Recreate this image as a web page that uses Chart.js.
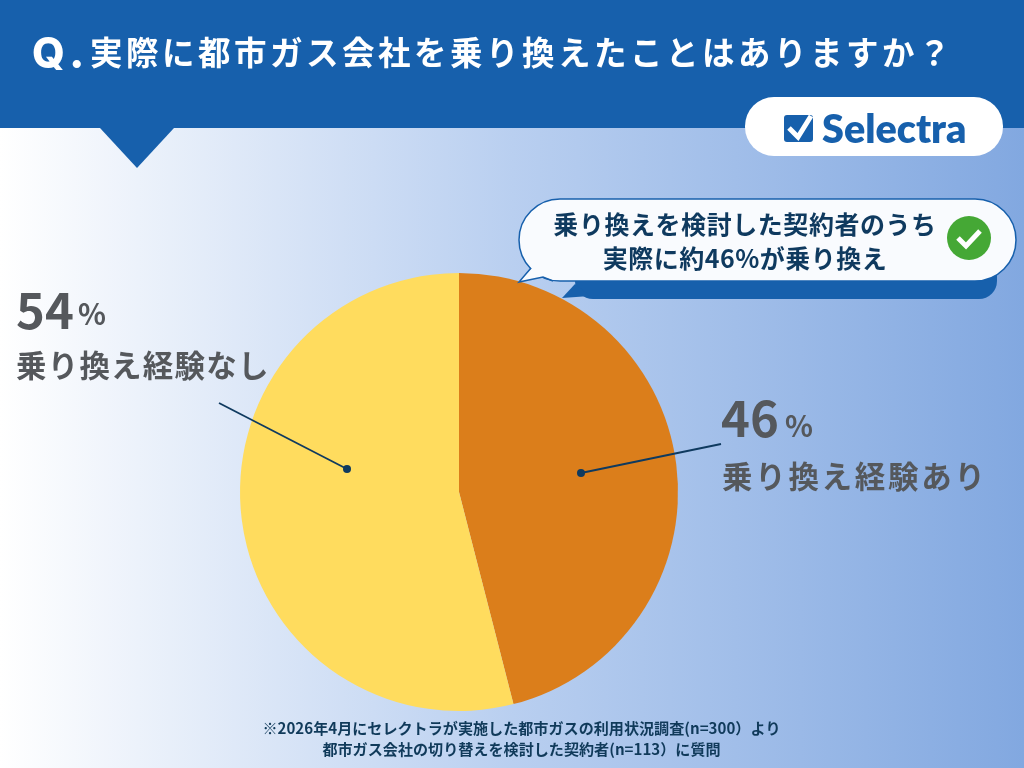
<!DOCTYPE html>
<html lang="ja"><head><meta charset="utf-8">
<style>html,body{margin:0;padding:0;width:1024px;height:768px;overflow:hidden;background:#fff}canvas{display:block}</style>
<script src="https://cdn.jsdelivr.net/npm/chart.js@4/dist/chart.umd.min.js"></script>
</head><body>
<div style="position:relative;width:1024px;height:768px"><canvas id="c" width="1024" height="768"></canvas></div>
<script>
const categories = ['乗り換え経験あり', '乗り換え経験なし'];
const values = [46, 54];
const sliceColors = ['#db7e1b', '#ffdc5e'];
const titleText = '実際に都市ガス会社を乗り換えたことはありますか？';
const calloutLines = ['乗り換えを検討した契約者のうち', '実際に約46%が乗り換え'];
const footLines = ['※2026年4月にセレクトラが実施した都市ガスの利用状況調査(n=300）より', '都市ガス会社の切り替えを検討した契約者(n=113）に質問'];
const JP = '"Noto Sans CJK JP","Noto Sans",sans-serif';

function text(ctx, s, x, y, font, color, align, ls) {
  ctx.font = font; ctx.fillStyle = color; ctx.textAlign = align || 'left';
  ctx.textBaseline = 'alphabetic'; ctx.letterSpacing = (ls || 0) + 'px';
  ctx.fillText(s, x, y); ctx.letterSpacing = '0px';
}
function rr(ctx, x, y, w, h, r) { ctx.beginPath(); ctx.roundRect(x, y, w, h, r); }

const backdrop = {
  id: 'backdrop',
  beforeDraw(chart) {
    const ctx = chart.ctx;
    ctx.save();
    const g = ctx.createLinearGradient(0, 0, 1024, 0);
    g.addColorStop(0, '#ffffff');
    g.addColorStop(0.5, '#b9cff0');
    g.addColorStop(1, '#82a8e0');
    ctx.fillStyle = g; ctx.fillRect(0, 0, 1024, 768);
    ctx.fillStyle = '#1760ac';
    ctx.fillRect(0, 0, 1024, 128);
    ctx.beginPath(); ctx.moveTo(100, 128); ctx.lineTo(174, 128); ctx.lineTo(137, 168); ctx.closePath(); ctx.fill();
    text(ctx, 'Q', 32, 68, '800 42px Inter,Roboto,sans-serif', '#fff');
    text(ctx, '.', 69, 68, '800 44px Inter,Roboto,sans-serif', '#fff');
    text(ctx, titleText, 90, 65, '700 32.5px ' + JP, '#fff', 'left', 3.5);
    // logo pill
    ctx.fillStyle = '#fff'; rr(ctx, 745, 97, 258, 59, 29); ctx.fill();
    ctx.fillStyle = '#1760ac'; rr(ctx, 784, 115, 29, 27, 3); ctx.fill();
    ctx.strokeStyle = '#fff'; ctx.lineWidth = 5; ctx.beginPath();
    ctx.moveTo(789, 128); ctx.lineTo(798, 137); ctx.lineTo(811, 116); ctx.stroke();
    text(ctx, 'Selectra', 822, 143, '800 39.5px Lato,"Open Sans",sans-serif', '#1760ac');
    ctx.restore();
  },
  afterDraw(chart) {
    const ctx = chart.ctx;
    ctx.save();
    // callout shadow
    ctx.fillStyle = '#1760ac';
    rr(ctx, 575, 240, 422, 59, 18); ctx.fill();
    ctx.beginPath(); ctx.moveTo(575, 284); ctx.lineTo(590, 296); ctx.lineTo(562, 298); ctx.closePath(); ctx.fill();
    // callout body
    ctx.beginPath();
    ctx.roundRect(519, 199, 497, 82, 41);
    ctx.fillStyle = '#f9fbfe'; ctx.strokeStyle = '#1760ac'; ctx.lineWidth = 1.5;
    ctx.fill(); ctx.stroke();
    ctx.beginPath(); ctx.moveTo(532, 268); ctx.lineTo(519, 282); ctx.lineTo(543, 277); ctx.lineTo(553, 280); ctx.lineTo(560, 270); ctx.closePath(); ctx.fill();
    ctx.beginPath(); ctx.moveTo(531, 268); ctx.lineTo(519, 282); ctx.lineTo(543, 277); ctx.lineTo(553, 281); ctx.stroke();
    text(ctx, calloutLines[0], 745, 234, '700 25px ' + JP, '#0f3a5f', 'center', 0.55);
    text(ctx, calloutLines[1], 745, 268, '700 25px ' + JP, '#0f3a5f', 'center', 0.5);
    ctx.fillStyle = '#45a835'; ctx.beginPath(); ctx.arc(969, 238, 22, 0, 7); ctx.fill();
    ctx.strokeStyle = '#fff'; ctx.lineWidth = 5; ctx.beginPath();
    ctx.moveTo(958, 238); ctx.lineTo(966, 246); ctx.lineTo(980, 231); ctx.stroke();
    // leaders
    ctx.strokeStyle = '#0f3a5f'; ctx.fillStyle = '#0f3a5f'; ctx.lineWidth = 1.8;
    ctx.beginPath(); ctx.moveTo(219, 403); ctx.lineTo(347, 469); ctx.stroke();
    ctx.beginPath(); ctx.arc(347, 469, 4, 0, 7); ctx.fill();
    ctx.beginPath(); ctx.moveTo(721, 444); ctx.lineTo(581, 473); ctx.stroke();
    ctx.beginPath(); ctx.arc(581, 473, 4, 0, 7); ctx.fill();
    // labels
    const grey = '#55585c';
    text(ctx, values[1] + '', 16, 329, '700 49px ' + JP, grey);
    text(ctx, '%', 78, 325, '700 29px ' + JP, grey);
    text(ctx, categories[1], 16, 377, '700 30.5px ' + JP, grey, 'left', 1.2);
    text(ctx, values[0] + '', 721, 437, '700 49px ' + JP, grey);
    text(ctx, '%', 785, 437, '700 29px ' + JP, grey);
    text(ctx, categories[0], 722, 488, '700 30.5px ' + JP, grey, 'left', 2.7);
    // footnote
    text(ctx, footLines[0], 521.5, 734, '700 15.1px ' + JP, '#103a5a', 'center');
    text(ctx, footLines[1], 521.5, 755, '700 15.1px ' + JP, '#103a5a', 'center');
    ctx.restore();
  }
};

new Chart(document.getElementById('c'), {
  type: 'pie',
  data: { labels: categories, datasets: [{ data: values, backgroundColor: sliceColors, borderWidth: 0 }] },
  options: {
    responsive: false, animation: false,
    layout: { padding: { left: 240, right: 346, top: 273, bottom: 57 } },
    plugins: { legend: { display: false }, tooltip: { enabled: false } }
  },
  plugins: [backdrop]
});
</script>
</body></html>
